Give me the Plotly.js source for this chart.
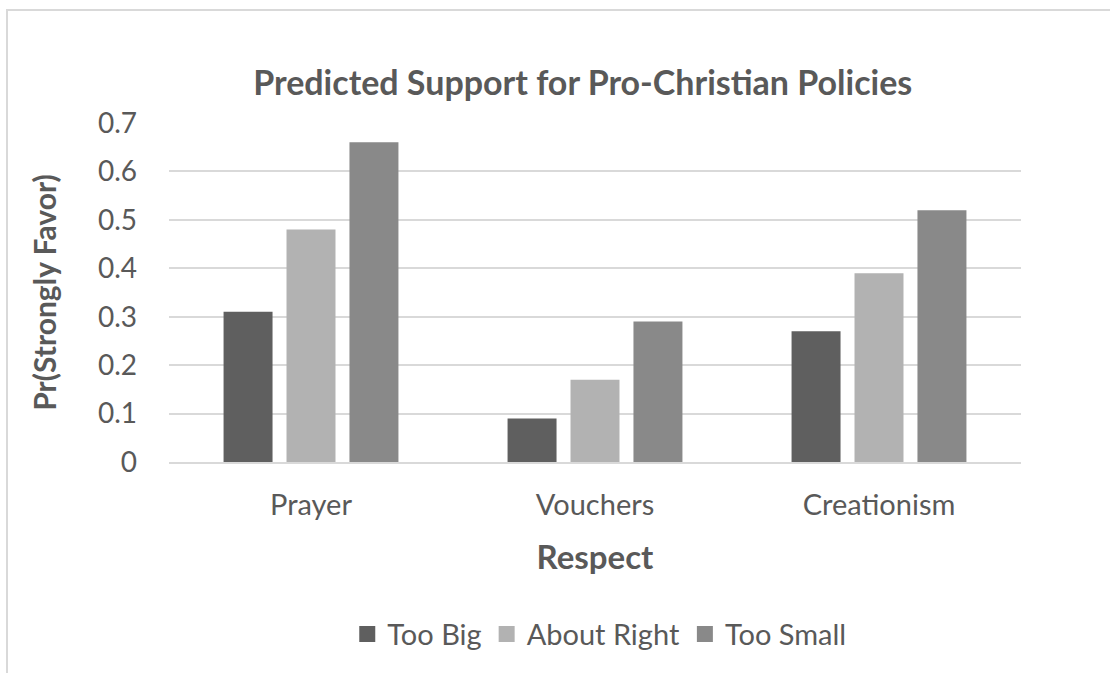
<!DOCTYPE html>
<html><head><meta charset="utf-8">
<script src="https://cdn.plot.ly/plotly-3.0.1.min.js"></script>
<style>
html,body{margin:0;padding:0;overflow:hidden;background:#fff;}
#frame{position:absolute;left:6px;top:9px;width:1300px;height:900px;border:2px solid #d9d9d9;box-sizing:border-box;pointer-events:none;z-index:5;}
#chart{position:absolute;left:0;top:0;width:1110px;height:673px;}
</style></head>
<body>
<div id="chart"></div>
<div id="frame"></div>
<script>
const categories = ["Prayer", "Vouchers", "Creationism"];
const tooBig = [0.31, 0.09, 0.27];
const aboutRight = [0.48, 0.17, 0.39];
const tooSmall = [0.66, 0.29, 0.52];
const seriesNames = ["Too Big", "About Right", "Too Small"];
const yTicks = [0, 0.1, 0.2, 0.3, 0.4, 0.5, 0.6, 0.7];
const yTickLabels = ["0", "0.1", "0.2", "0.3", "0.4", "0.5", "0.6", "0.7"];

const colors = ["#5f5f5f", "#b2b2b2", "#898989"];
const series = [tooBig, aboutRight, tooSmall];
const font = "Lato, 'Open Sans', sans-serif";
const traces = series.map((vals, i) => ({
  type: "bar", x: categories, y: vals, name: seriesNames[i], showlegend: false,
  marker: {color: colors[i], line: {width: 0}}, hoverinfo: "skip"
}));
// legend-only entries with larger square symbols
seriesNames.forEach((n, i) => traces.push({
  type: "scatter", mode: "markers", x: [categories[0]], y: [null], name: n,
  marker: {symbol: "square", size: 18, color: colors[i], line: {width: 0}}, hoverinfo: "skip"
}));
const layout = {
  width: 1110, height: 673,
  margin: {l: 169, r: 89, t: 123, b: 211},
  paper_bgcolor: "#fff", plot_bgcolor: "#fff",
  barmode: "group", bargap: 0.335, bargroupgap: 0.222,
  title: {text: "<b>Predicted Support for Pro-Christian Policies</b>", x: 0.525, xanchor: "center", y: 0.876, yanchor: "middle",
          font: {family: font, size: 34, color: "#595959"}},
  font: {family: font, color: "#595959"},
  xaxis: {type: "category", showgrid: false, showline: true, linecolor: "#d9d9d9", linewidth: 2,
          ticks: "", tickfont: {size: 29, color: "#595959"}, ticklabelstandoff: 16,
          title: {text: "<b>Respect</b>", font: {size: 33, color: "#595959"}, standoff: 26}},
  yaxis: {range: [0, 0.7], tickvals: yTicks, ticktext: yTickLabels, showgrid: true, gridcolor: "#d9d9d9", gridwidth: 2,
          zeroline: false, showline: false, ticks: "", tickfont: {size: 28, color: "#595959"}, ticklabelstandoff: 31,
          title: {text: "<b>Pr(Strongly Favor)</b>", font: {size: 30, color: "#595959"}, standoff: 32}},
  legend: {orientation: "h", x: 0.505, xanchor: "center", y: -0.508, yanchor: "middle",
           font: {size: 29, color: "#595959"}, itemwidth: 30, traceorder: "normal", itemsizing: "trace"},
  showlegend: true
};
Plotly.newPlot("chart", traces, layout, {displayModeBar: false, staticPlot: true});
</script>
</body></html>
